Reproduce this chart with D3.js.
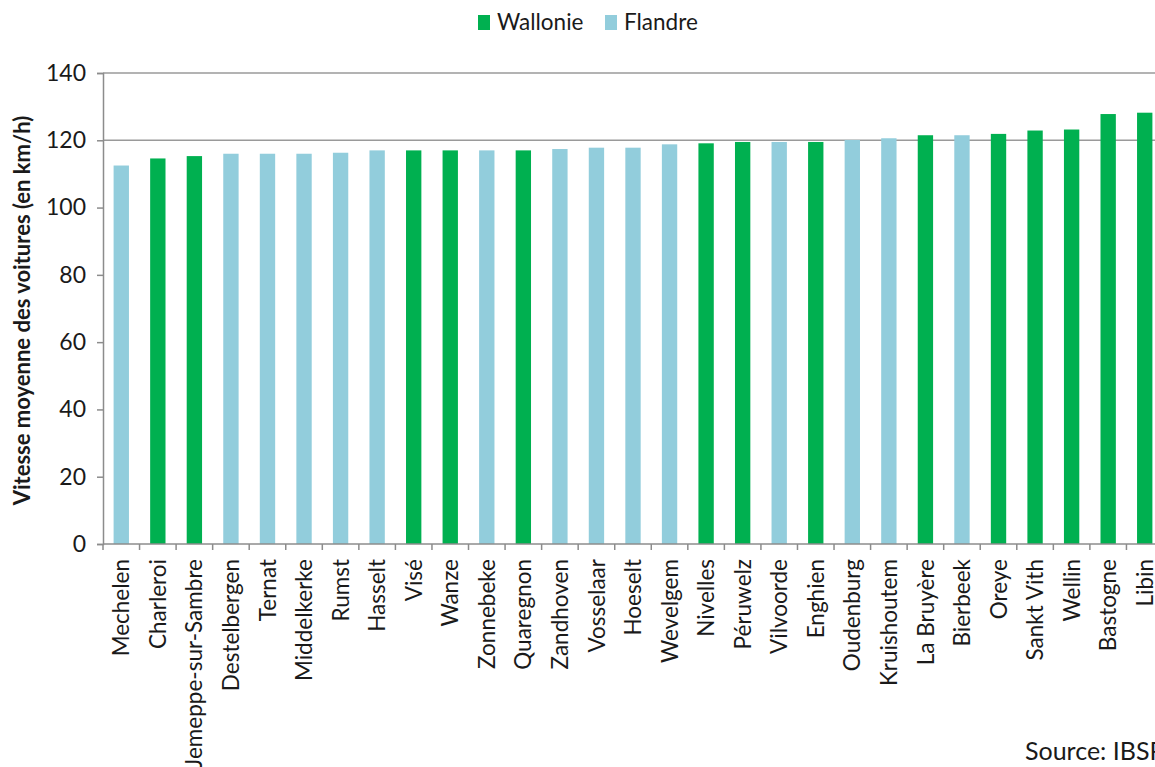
<!DOCTYPE html>
<html>
<head>
<meta charset="utf-8">
<script src="https://cdn.jsdelivr.net/npm/d3@7"></script>
<style>
  html, body { margin: 0; padding: 0; background: #fff; overflow: hidden; }
  svg { display: block; font-family: Lato, "Open Sans", sans-serif; }
</style>
</head>
<body>
<svg id="chart" width="1155" height="767"></svg>
<script>
// Average car speed per municipality (km/h), sorted ascending
const communes = [
  "Mechelen", "Charleroi", "Jemeppe-sur-Sambre", "Destelbergen", "Ternat",
  "Middelkerke", "Rumst", "Hasselt", "Visé", "Wanze", "Zonnebeke",
  "Quaregnon", "Zandhoven", "Vosselaar", "Hoeselt", "Wevelgem", "Nivelles",
  "Péruwelz", "Vilvoorde", "Enghien", "Oudenburg", "Kruishoutem",
  "La Bruyère", "Bierbeek", "Oreye", "Sankt Vith", "Wellin", "Bastogne", "Libin"
];
const vitesses = [
  112.5, 114.6, 115.3, 116.0, 116.0,
  116.0, 116.3, 117.0, 117.0, 117.0, 117.0,
  117.0, 117.4, 117.8, 117.8, 118.8, 119.1,
  119.5, 119.5, 119.5, 120.1, 120.6,
  121.5, 121.5, 121.9, 122.9, 123.2, 127.8, 128.2
];
const regions = [
  "Flandre", "Wallonie", "Wallonie", "Flandre", "Flandre",
  "Flandre", "Flandre", "Flandre", "Wallonie", "Wallonie", "Flandre",
  "Wallonie", "Flandre", "Flandre", "Flandre", "Flandre", "Wallonie",
  "Wallonie", "Flandre", "Wallonie", "Flandre", "Flandre",
  "Wallonie", "Flandre", "Wallonie", "Wallonie", "Wallonie", "Wallonie", "Wallonie"
];
const legendRegions = ["Wallonie", "Flandre"];
const yTicks = [0, 20, 40, 60, 80, 100, 120, 140];
const gridValues = [120, 140];

const colors = { "Wallonie": "#00b050", "Flandre": "#92cddc" };

const svg = d3.select("#chart");
const margin = { left: 103, right: -8, top: 73, bottom: 223 };
const W = 1155, H = 767;

const x = d3.scaleBand()
  .domain(communes)
  .range([margin.left, W - margin.right])
  .paddingInner(0.58)
  .paddingOuter(0.29);

const y = d3.scaleLinear()
  .domain([0, 140])
  .range([H - margin.bottom, margin.top]);

const axisColor = "#8c8c8c";
const textColor = "#1a1a1a";

// horizontal reference lines
svg.append("g")
  .selectAll("line")
  .data(gridValues)
  .join("line")
  .attr("x1", margin.left)
  .attr("x2", W - margin.right)
  .attr("y1", d => y(d))
  .attr("y2", d => y(d))
  .attr("stroke", "#9a9a9a")
  .attr("stroke-width", 1.5);

// bars
svg.append("g")
  .selectAll("rect")
  .data(communes)
  .join("rect")
  .attr("x", d => x(d))
  .attr("width", x.bandwidth())
  .attr("y", (d, i) => y(vitesses[i]))
  .attr("height", (d, i) => y(0) - y(vitesses[i]))
  .attr("fill", (d, i) => colors[regions[i]]);

// y axis
const yAxis = svg.append("g")
  .attr("transform", `translate(${margin.left},0)`)
  .call(d3.axisLeft(y).tickValues(yTicks).tickSize(6).tickPadding(11));
yAxis.select(".domain").attr("stroke", axisColor).attr("stroke-width", 1.5);
yAxis.selectAll(".tick line").attr("stroke", axisColor).attr("stroke-width", 1.5);
yAxis.selectAll(".tick text")
  .attr("font-size", 23)
  .attr("font-family", "Lato, sans-serif")
  .attr("fill", textColor);

// x axis with ticks on category boundaries
const xAxisG = svg.append("g")
  .attr("transform", `translate(0,${y(0)})`);
xAxisG.append("line")
  .attr("x1", margin.left).attr("x2", W - margin.right)
  .attr("stroke", axisColor).attr("stroke-width", 1.5);
const step = x.step();
const boundaries = communes.map((d, i) => margin.left + i * step).concat([margin.left + communes.length * step]);
xAxisG.selectAll("line.tk")
  .data(boundaries)
  .join("line")
  .attr("class", "tk")
  .attr("x1", d => d).attr("x2", d => d)
  .attr("y1", 0).attr("y2", 6)
  .attr("stroke", axisColor).attr("stroke-width", 1.5);

xAxisG.selectAll("text")
  .data(communes)
  .join("text")
  .attr("transform", d => `translate(${x(d) + x.bandwidth() / 2},15) rotate(-90)`)
  .attr("text-anchor", "end")
  .attr("dy", "0.36em")
  .attr("font-size", 22.5)
  .attr("fill", textColor)
  .text(d => d);

// y axis title
svg.append("text")
  .attr("transform", `translate(30,${(y(0) + y(140)) / 2 + 2}) rotate(-90)`)
  .attr("text-anchor", "middle")
  .attr("font-size", 22)
  .attr("font-weight", "bold")
  .attr("fill", textColor)
  .text("Vitesse moyenne des voitures (en km/h)");

// legend
const legend = svg.append("g");
const legendX = [478, 605];
legendRegions.forEach((r, i) => {
  const g = legend.append("g").attr("transform", `translate(${legendX[i]},0)`);
  g.append("rect").attr("x", 0).attr("y", 15).attr("width", 12).attr("height", 15).attr("fill", colors[r]);
  g.append("text").attr("x", 19).attr("y", 30).attr("font-size", 22.5).attr("fill", textColor).text(r);
});

// source note
svg.append("text")
  .attr("x", 1025).attr("y", 760)
  .attr("font-size", 25)
  .attr("fill", textColor)
  .text("Source: IBSR");
</script>
</body>
</html>
